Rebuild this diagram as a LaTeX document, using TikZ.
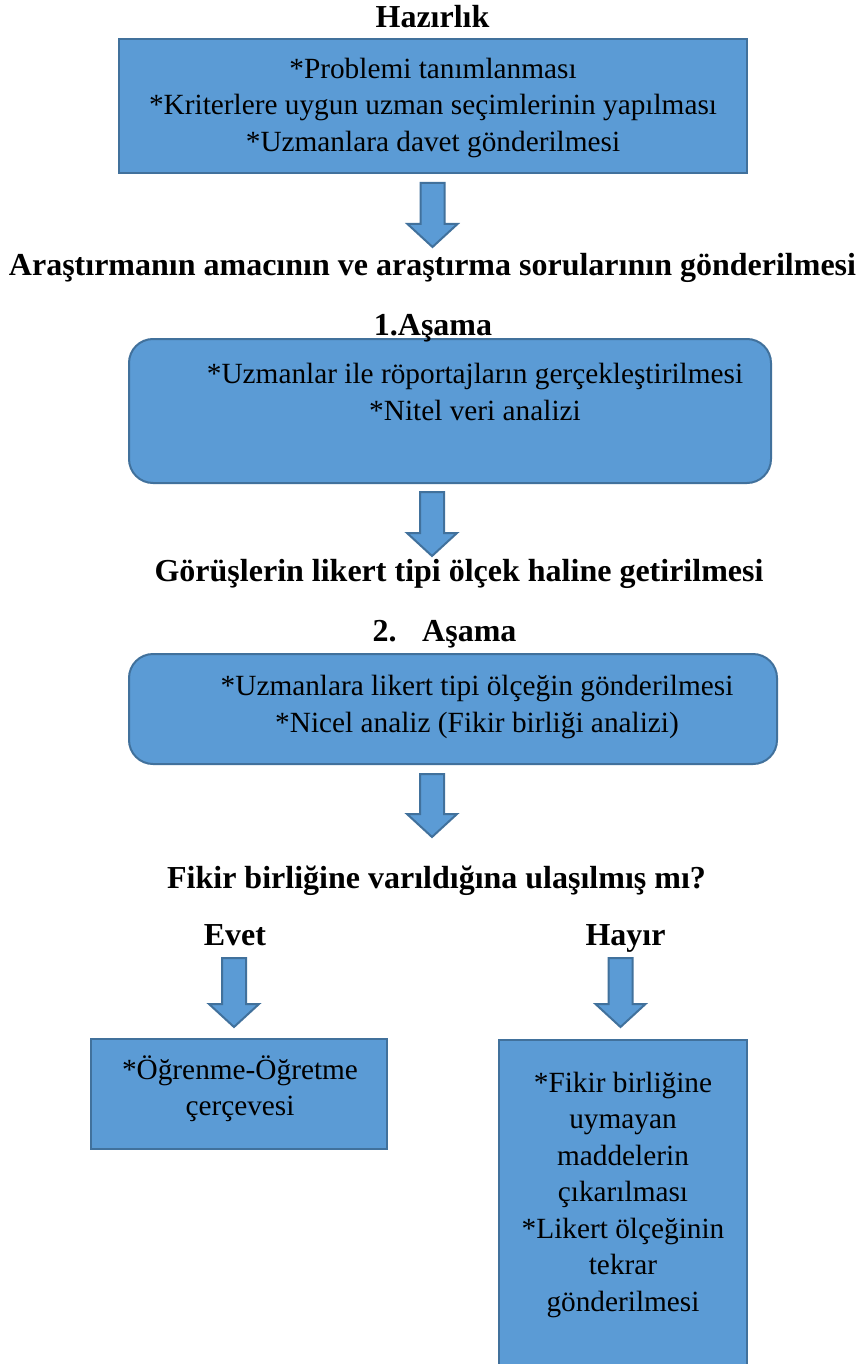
\documentclass[tikz,border=0pt]{standalone}
\usepackage{fontspec}
\setmainfont{Liberation Serif}
\usetikzlibrary{calc}
\definecolor{boxfill}{RGB}{91,155,213}
\definecolor{boxline}{RGB}{65,113,156}
\newcommand\blockarrow[2]{%
  \draw[barrow] ($(#1)+(-12,0)$) -- ($(#1)+(12,0)$) -- ($(#2)+(12,-23)$) -- ($(#2)+(25,-23)$)
    -- (#2) -- ($(#2)+(-25,-23)$) -- ($(#2)+(-12,-23)$) -- cycle;}
\begin{document}
\begin{tikzpicture}[x=1pt,y=-1pt,
  box/.style={draw=boxline, line width=2pt, fill=boxfill, inner sep=0pt, outer sep=0pt},
  rbox/.style={box, rounded corners=24pt},
  barrow/.style={draw=boxline, line width=2pt, fill=boxfill, line join=miter},
  txt/.style={anchor=base, inner sep=0pt, font=\fontsize{29.3}{35}\selectfont},
  ttl/.style={anchor=base, inner sep=0pt, font=\fontsize{32}{37}\selectfont\bfseries}]
\clip (0,0) rectangle (860,1364);
\fill[white] (0,0) rectangle (860,1364);
% boxes
\node[box, minimum width=628pt, minimum height=134pt] (b1) at (433,106) {};
\node[rbox, minimum width=642pt, minimum height=144pt] (b2) at (450,411) {};
\node[rbox, minimum width=648pt, minimum height=110pt] (b3) at (453,709) {};
\node[box, minimum width=296pt, minimum height=110pt] (b4) at (239,1094) {};
\node[box, minimum width=248pt, minimum height=340pt] (b5) at (623,1210) {};
% titles
\node[ttl] (t0) at (432.5,28) {Hazırlık};
\node[ttl] (t1) at (432.5,276) {Araştırmanın amacının ve araştırma sorularının gönderilmesi};
\node[ttl] (t2) at (433,335) {1.Aşama};
\node[ttl] (t3) at (459,581) {Görüşlerin likert tipi ölçek haline getirilmesi};
\node[ttl] (t4) at (444.5,641) {2.\hspace{15pt} Aşama};
\node[ttl] (t5) at (436.5,888) {Fikir birliğine varıldığına ulaşılmış mı?};
\node[ttl] (t6) at (235,945) {Evet};
\node[ttl] (t7) at (625.5,945) {Hayır};
% box texts
\node[txt] (l11) at (433,79) {*Problemi tanımlanması};
\node[txt] (l12) at (433,115) {*Kriterlere uygun uzman seçimlerinin yapılması};
\node[txt] (l13) at (433,152) {*Uzmanlara davet gönderilmesi};
\node[txt] (l21) at (475,383) {*Uzmanlar ile röportajların gerçekleştirilmesi};
\node[txt] (l22) at (475,420) {*Nitel veri analizi};
\node[txt] (l31) at (477,695) {*Uzmanlara likert tipi ölçeğin gönderilmesi};
\node[txt] (l32) at (477,732) {*Nicel analiz (Fikir birliği analizi)};
\node[txt] (l41) at (240,1079) {*Öğrenme-Öğretme};
\node[txt] (l42) at (240,1115) {çerçevesi};
\node[txt] (l51) at (623,1092) {*Fikir birliğine};
\node[txt] (l52) at (623,1128.5) {uymayan};
\node[txt] (l53) at (623,1165) {maddelerin};
\node[txt] (l54) at (623,1201.5) {çıkarılması};
\node[txt] (l55) at (623,1238) {*Likert ölçeğinin};
\node[txt] (l56) at (623,1274.5) {tekrar};
\node[txt] (l57) at (623,1311) {gönderilmesi};
% arrows
\coordinate (a1s) at (432.5,183); \coordinate (a1e) at (432.5,247);
\coordinate (a2s) at (432,492);   \coordinate (a2e) at (432,556);
\coordinate (a3s) at (432,774);   \coordinate (a3e) at (432,837);
\coordinate (a4s) at (234,958);   \coordinate (a4e) at (234,1027);
\coordinate (a5s) at (620.5,958); \coordinate (a5e) at (620.5,1027);
\blockarrow{a1s}{a1e}
\blockarrow{a2s}{a2e}
\blockarrow{a3s}{a3e}
\blockarrow{a4s}{a4e}
\blockarrow{a5s}{a5e}
\end{tikzpicture}
\end{document}
